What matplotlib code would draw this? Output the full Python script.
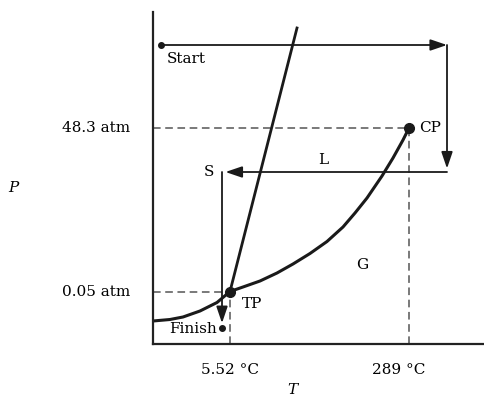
import matplotlib
matplotlib.use("Agg")
import matplotlib.pyplot as plt
import numpy as np

plt.rcParams['font.family'] = 'DejaVu Serif'

# schematic phase diagram, arbitrary units (T right, P up)
triple_point = (77, 52.5)
critical_point = (256, 216)
fusion_top = (144, 316)

vap_T = [0, 17, 30, 47, 64, 77, 90, 107, 124, 140, 157, 174, 190, 202, 214, 229, 240, 250, 256]
vap_P = [23, 24.5, 27, 33, 41.5, 52.5, 57, 63, 71, 80, 90.5, 102.5, 117, 131, 146, 168, 186, 204, 216]

path_T = [8, 294, 294, 69, 69]
path_P = [299, 299, 172, 172, 16]
path_labels = ["Start", "", "", "S", "Finish"]

ytick_vals = [216, 52.5]
ytick_labels = ["48.3 atm", "0.05 atm"]
xtick_vals = [77, 256]
xtick_labels = ["5.52 \u00b0C", "289 \u00b0C"]

fig = plt.figure(figsize=(4.85, 3.97), dpi=100)
ax = fig.add_axes([153/485, 53/397, 332/485, 332/397])
ax.set_xlim(0, 332)
ax.set_ylim(0, 332)
for s in ['top', 'right']:
    ax.spines[s].set_visible(False)
for s in ['left', 'bottom']:
    ax.spines[s].set_linewidth(1.6)
    ax.spines[s].set_color('#222222')
ax.set_xticks([])
ax.set_yticks([])

dash = dict(color='#555555', lw=1.1, ls=(0, (5, 3)))
ax.plot([0, critical_point[0]], [critical_point[1]] * 2, **dash)
ax.plot([critical_point[0]] * 2, [0, critical_point[1]], **dash)
ax.plot([0, triple_point[0]], [triple_point[1]] * 2, **dash)
ax.plot([triple_point[0]] * 2, [0, triple_point[1]], **dash)

# phase boundaries
ax.plot(vap_T, vap_P, color='#1a1a1a', lw=2.2, solid_capstyle='butt',
        solid_joinstyle='round')
ax.plot([triple_point[0], fusion_top[0]], [triple_point[1], fusion_top[1]],
        color='#1a1a1a', lw=2.0)

# process path with arrows
astyle = dict(arrowstyle='-|>,head_length=0.5,head_width=0.17', color='#1a1a1a',
              lw=1.3, mutation_scale=20, shrinkA=0, shrinkB=0)
for i in range(len(path_T) - 1):
    b = astyle.copy()
    if i in (1, 2):
        b['shrinkB'] = 2.5
    if i == 3:
        b['shrinkB'] = 3.5
    ax.annotate('', xy=(path_T[i+1], path_P[i+1]), xytext=(path_T[i], path_P[i]),
                arrowprops=b)
ax.plot([path_T[0], path_T[-1]], [path_P[0], path_P[-1]], 'o', color='#1a1a1a', ms=4)

ax.plot(*triple_point, 'o', color='#1a1a1a', ms=7)
ax.plot(*critical_point, 'o', color='#1a1a1a', ms=7)

fs = 11
ax.text(path_T[0] + 6, path_P[0] - 14, path_labels[0], fontsize=fs, va='center', ha='left')
ax.text(path_T[3] - 8, path_P[3], path_labels[3], fontsize=fs, va='center', ha='right')
ax.text(path_T[4] - 5, path_P[4] - 1, path_labels[4], fontsize=fs, va='center', ha='right')
ax.text(170, 184, "L", fontsize=fs, va='center', ha='center')
ax.text(209, 79, "G", fontsize=fs, va='center', ha='center')
ax.text(triple_point[0] + 12, triple_point[1] - 12, "TP", fontsize=fs, va='center', ha='left')
ax.text(critical_point[0] + 10, critical_point[1], "CP", fontsize=fs, va='center', ha='left')

for v, lab in zip(ytick_vals, ytick_labels):
    ax.text(-23, v, lab, fontsize=fs, va='center', ha='right')
ax.text(xtick_vals[0], -26, xtick_labels[0], fontsize=fs, va='center', ha='center')
ax.text(xtick_vals[1] - 10, -26, xtick_labels[1], fontsize=fs, va='center', ha='center')

ax.text(-140, 156, "P", fontsize=fs, style='italic', va='center', ha='center')
ax.text(139, -46, "T", fontsize=fs, style='italic', va='center', ha='center')

for a in ax.texts:
    a.set_clip_on(False)

fig.savefig("out.png", dpi=100)
